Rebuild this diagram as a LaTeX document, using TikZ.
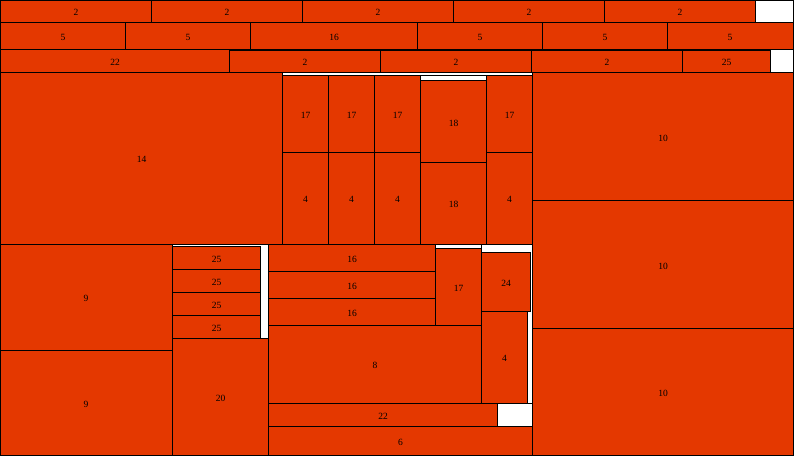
\documentclass[tikz,border=0pt]{standalone}
\usepackage{fontspec}
\setmainfont{Liberation Serif}
\definecolor{cellred}{RGB}{228,56,0}

\begin{document}
\begin{tikzpicture}[x=1pt, y=-1pt, line width=0.9pt,
  cell/.style={draw=black, fill=cellred},
  blank/.style={draw=black, fill=white},
  lbl/.style={font=\fontsize{9.5}{10}\selectfont, inner sep=0pt, yshift=-1pt}]
  \useasboundingbox (0,0) rectangle (795,456);
  % outer frame
  \draw[blank] (0.5,0.5) rectangle (793.5,455.5);
  % row 1
  \draw[cell] (0.5,0.5)   rectangle (151.5,22);  \node[lbl] (ra) at (76,11)  {2};
  \draw[cell] (151.5,0.5) rectangle (302.5,22);  \node[lbl] (rb) at (227,11) {2};
  \draw[cell] (302.5,0.5) rectangle (453.5,22);  \node[lbl] (rc) at (378,11) {2};
  \draw[cell] (453.5,0.5) rectangle (604.5,22);  \node[lbl] (rd) at (529,11) {2};
  \draw[cell] (604.5,0.5) rectangle (755.5,22);  \node[lbl] (re) at (680,11) {2};
  % row 2
  \draw[cell] (0.5,22)   rectangle (125.5,49.5); \node[lbl] (sa) at (63,36)  {5};
  \draw[cell] (125.5,22) rectangle (250.5,49.5); \node[lbl] (sb) at (188,36) {5};
  \draw[cell] (250.5,22) rectangle (417.5,49.5); \node[lbl] (sc) at (334,36) {16};
  \draw[cell] (417.5,22) rectangle (542.5,49.5); \node[lbl] (sd) at (480,36) {5};
  \draw[cell] (542.5,22) rectangle (667.5,49.5); \node[lbl] (se) at (605,36) {5};
  \draw[cell] (667.5,22) rectangle (793.5,49.5); \node[lbl] (sf) at (730,36) {5};
  % row 3
  \draw[cell] (0.5,49.5)   rectangle (229.5,72.5); \node[lbl] (ta) at (115,61)   {22};
  \draw[cell] (229.5,50.5) rectangle (380.5,72.5); \node[lbl] (tb) at (305,61.5) {2};
  \draw[cell] (380.5,50.5) rectangle (531.5,72.5); \node[lbl] (tc) at (456,61.5) {2};
  \draw[cell] (531.5,50.5) rectangle (682.5,72.5); \node[lbl] (td) at (607,61.5) {2};
  \draw[cell] (682.5,50.5) rectangle (770.5,72.5); \node[lbl] (te) at (726.5,61.5) {25};
  % upper block
  \draw[cell] (0.5,72.5) rectangle (282.5,244.5); \node[lbl] (ua) at (141.5,158.5) {14};
  \draw[blank] (282.5,75.5) rectangle (532.5,244.5);
  \draw[cell] (282.5,75.5)  rectangle (328.5,152.5); \node[lbl] (ub) at (305.5,114) {17};
  \draw[cell] (328.5,75.5)  rectangle (374.5,152.5); \node[lbl] (uc) at (351.5,114) {17};
  \draw[cell] (374.5,75.5)  rectangle (420.5,152.5); \node[lbl] (ud) at (397.5,114) {17};
  \draw[cell] (486.5,75.5)  rectangle (532.5,152.5); \node[lbl] (ue) at (509.5,114) {17};
  \draw[cell] (282.5,152.5) rectangle (328.5,244.5); \node[lbl] (vb) at (305.5,198.5) {4};
  \draw[cell] (328.5,152.5) rectangle (374.5,244.5); \node[lbl] (vc) at (351.5,198.5) {4};
  \draw[cell] (374.5,152.5) rectangle (420.5,244.5); \node[lbl] (vd) at (397.5,198.5) {4};
  \draw[cell] (486.5,152.5) rectangle (532.5,244.5); \node[lbl] (ve) at (509.5,198.5) {4};
  \draw[cell] (420.5,80.5)  rectangle (486.5,162.5); \node[lbl] (uf) at (453.5,122) {18};
  \draw[cell] (420.5,162.5) rectangle (486.5,244.5); \node[lbl] (vf) at (453.5,203.5) {18};
  % right column
  \draw[cell] (532.5,72.5)  rectangle (793.5,200.5); \node[lbl] (wa) at (663,137) {10};
  \draw[cell] (532.5,200.5) rectangle (793.5,328.5); \node[lbl] (wb) at (663,265) {10};
  \draw[cell] (532.5,328.5) rectangle (793.5,455.5); \node[lbl] (wc) at (663,392.5) {10};
  % lower left
  \draw[cell] (0.5,244.5) rectangle (172.5,350.5); \node[lbl] (xa) at (86,297.5) {9};
  \draw[cell] (0.5,350.5) rectangle (172.5,455.5); \node[lbl] (xb) at (86,403) {9};
  \draw[blank] (172.5,244.5) rectangle (268.5,338.5);
  \draw[cell] (172.5,246.5) rectangle (260.5,269.5); \node[lbl] (ya) at (216.5,258) {25};
  \draw[cell] (172.5,269.5) rectangle (260.5,292.5); \node[lbl] (yb) at (216.5,281) {25};
  \draw[cell] (172.5,292.5) rectangle (260.5,315.5); \node[lbl] (yc) at (216.5,304) {25};
  \draw[cell] (172.5,315.5) rectangle (260.5,338.5); \node[lbl] (yd) at (216.5,327) {25};
  \draw[cell] (172.5,338.5) rectangle (268.5,455.5); \node[lbl] (ye) at (220.5,397.5) {20};
  % lower middle
  \draw[cell] (268.5,244.5) rectangle (435.5,271.5); \node[lbl] (za) at (352,258.5) {16};
  \draw[cell] (268.5,271.5) rectangle (435.5,298.5); \node[lbl] (zb) at (352,285.5) {16};
  \draw[cell] (268.5,298.5) rectangle (435.5,325.5); \node[lbl] (zc) at (352,312.5) {16};
  \draw[blank] (435.5,244.5) rectangle (481.5,325.5);
  \draw[cell] (435.5,248.5) rectangle (481.5,325.5); \node[lbl] (zd) at (458.5,287) {17};
  \draw[blank] (481.5,244.5) rectangle (532.5,403.5);
  \draw[cell] (481.5,252.5) rectangle (530.5,311.5); \node[lbl] (ze) at (506,282) {24};
  \draw[cell] (481.5,311.5) rectangle (527.5,403.5); \node[lbl] (zf) at (504.5,357.5) {4};
  \draw[cell] (268.5,325.5) rectangle (481.5,403.5); \node[lbl] (zg) at (375,364.5) {8};
  \draw[blank] (268.5,403.5) rectangle (532.5,426.5);
  \draw[cell] (268.5,403.5) rectangle (497.5,426.5); \node[lbl] (zh) at (383,415) {22};
  \draw[cell] (268.5,426.5) rectangle (532.5,455.5); \node[lbl] (zi) at (400.5,441) {6};
\end{tikzpicture}
\end{document}
